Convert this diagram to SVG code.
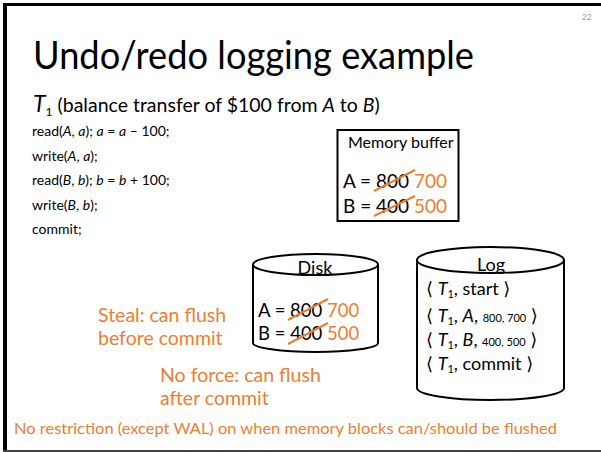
<svg xmlns="http://www.w3.org/2000/svg" width="601" height="452" viewBox="0 0 601 452">
<style>
text{font-family:Lato,"DejaVu Sans",sans-serif;fill:#000}
.o{fill:#ED7D31}
.i{font-style:italic}
.code{font-size:14px}
.big{font-size:19px}
.note{font-size:19.5px;fill:#ED7D31}
.strike{stroke:#ED7D31;stroke-width:2;fill:none}
.shape{fill:#fff;stroke:#000;stroke-width:2}
</style>
<rect x="0" y="0" width="601" height="452" fill="#fff"/>
<g id="frame">
<line x1="5" y1="3" x2="5" y2="452" stroke="#000" stroke-width="4"/>
<line x1="3" y1="4.5" x2="601" y2="4.5" stroke="#000" stroke-width="3"/>
<line x1="3" y1="451" x2="601" y2="451" stroke="#444" stroke-width="2"/>
</g>
<text x="582" y="20" font-size="8" style="fill:#999">22</text>
<g id="title"><text x="33" y="69" font-size="38" textLength="441" lengthAdjust="spacingAndGlyphs">Undo/redo logging example</text></g>
<g id="transaction">
<text x="33" y="112" font-size="19.5"><tspan class="i" font-size="23">T</tspan><tspan font-size="12" dy="4">1</tspan><tspan dy="-4"> (balance transfer of $100 from </tspan><tspan class="i">A</tspan> to <tspan class="i">B</tspan>)</text>
<text class="code" x="32" y="136">read(<tspan class="i">A</tspan>, <tspan class="i">a</tspan>); <tspan class="i">a</tspan> = <tspan class="i">a</tspan> – 100;</text>
<text class="code" x="32" y="161">write(<tspan class="i">A</tspan>, <tspan class="i">a</tspan>);</text>
<text class="code" x="32" y="185">read(<tspan class="i">B</tspan>, <tspan class="i">b</tspan>); <tspan class="i">b</tspan> = <tspan class="i">b</tspan> + 100;</text>
<text class="code" x="32" y="210">write(<tspan class="i">B</tspan>, <tspan class="i">b</tspan>);</text>
<text class="code" x="32" y="234">commit;</text>
</g>
<g id="memory-buffer">
<rect class="shape" x="337.5" y="130" width="121" height="91"/>
<text x="348" y="148" font-size="16">Memory buffer</text>
<text class="big" x="343" y="188">A = 800 <tspan class="o">700</tspan></text>
<text class="big" x="343" y="213">B = 400 <tspan class="o">500</tspan></text>
<line class="strike" x1="374" y1="191" x2="415" y2="170"/>
<line class="strike" x1="374" y1="216" x2="415" y2="196"/>
</g>
<g id="disk">
<path class="shape" d="M253 264.5 V343 A62.5 9 0 0 0 378 343 V264.5"/>
<ellipse class="shape" cx="315.5" cy="264.5" rx="62.5" ry="10.5"/>
<text x="315" y="274" font-size="18" text-anchor="middle">Disk</text>
<text x="258" y="317" font-size="18.5">A = 800 <tspan class="o">700</tspan></text>
<text x="258" y="340" font-size="18.5">B = 400 <tspan class="o">500</tspan></text>
<line class="strike" x1="288" y1="320" x2="328" y2="299"/>
<line class="strike" x1="288" y1="344" x2="328" y2="323"/>
</g>
<g id="log">
<path class="shape" d="M417 260 V388 A73.5 12 0 0 0 564 388 V260"/>
<ellipse class="shape" cx="490.5" cy="260" rx="73.5" ry="13"/>
<text x="491" y="271" font-size="18" text-anchor="middle">Log</text>
<text x="426" y="295" font-size="18">⟨ <tspan class="i">T</tspan><tspan font-size="11" dy="3">1</tspan><tspan dy="-3">, start ⟩</tspan></text>
<text x="426" y="322" font-size="18">⟨ <tspan class="i">T</tspan><tspan font-size="11" dy="3">1</tspan><tspan dy="-3">, </tspan><tspan class="i">A</tspan>, <tspan font-size="11">800, 700</tspan> ⟩</text>
<text x="426" y="346" font-size="18">⟨ <tspan class="i">T</tspan><tspan font-size="11" dy="3">1</tspan><tspan dy="-3">, </tspan><tspan class="i">B</tspan>, <tspan font-size="11">400, 500</tspan> ⟩</text>
<text x="426" y="370" font-size="18">⟨ <tspan class="i">T</tspan><tspan font-size="11" dy="3">1</tspan><tspan dy="-3">, commit ⟩</tspan></text>
</g>
<g id="connectors"/>
<g id="notes">
<text class="note" x="98" y="322">Steal: can flush</text>
<text class="note" x="98" y="345">before commit</text>
<text class="note" x="160" y="382">No force: can flush</text>
<text class="note" x="160" y="405">after commit</text>
<text class="o" x="14" y="434" font-size="16" textLength="543" lengthAdjust="spacingAndGlyphs">No restriction (except WAL) on when memory blocks can/should be flushed</text>
</g>
</svg>
